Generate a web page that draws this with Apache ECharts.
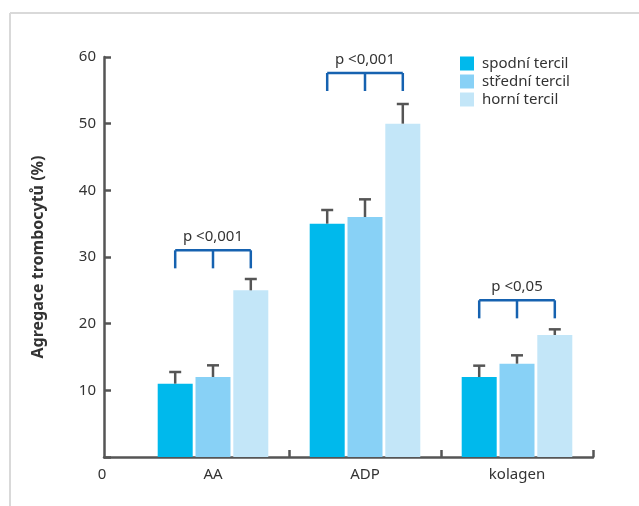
<!DOCTYPE html>
<html>
<head>
<meta charset="utf-8">
<script src="https://cdn.jsdelivr.net/npm/echarts@6/dist/echarts.min.js"></script>
<style>
  html, body { margin: 0; padding: 0; background: #fff; }
  #chart { width: 639px; height: 506px; }
</style>
</head>
<body>
<div id="chart"></div>
<script>
// Agregace trombocytů podle tercilů
const categories = ['AA', 'ADP', 'kolagen'];
const seriesNames = ['spodní tercil', 'střední tercil', 'horní tercil'];
const spodni = [11, 35, 12];
const stredni = [12, 36, 14];
const horni = [25, 50, 18.3];
const spodniErr = [1.75, 2.05, 1.7];
const stredniErr = [1.75, 2.65, 1.25];
const horniErr = [1.7, 2.95, 0.85];
const bracketLevels = [31, 57.6, 23.5];
const pLabels = ['p <0,001', 'p <0,001', 'p <0,05'];
const yMin = 0, yMax = 60, yStep = 10;

const values = [spodni, stredni, horni];
const errors = [spodniErr, stredniErr, horniErr];
const colors = ['#00b9ec', '#88d1f6', '#c3e6f8'];
const FONT = '"Noto Sans", sans-serif';
const FS = 15;
const AXIS = '#555';
const BAR_W = 35;
const GAP_RATIO = 0.08;
const STEP = BAR_W * (1 + GAP_RATIO);
const BRACKET_DROP = 2.7;

const chart = echarts.init(document.getElementById('chart'), null, { renderer: 'canvas' });

const barSeries = seriesNames.map((name, k) => ({
  name,
  type: 'bar',
  xAxisIndex: 1,
  yAxisIndex: 1,
  data: values[k],
  barWidth: BAR_W,
  barGap: (GAP_RATIO * 100) + '%',
  itemStyle: { color: colors[k] },
  z: 2
}));

const errSeries = seriesNames.map((name, k) => ({
  type: 'custom',
  xAxisIndex: 1,
  yAxisIndex: 1,
  silent: true,
  z: 3,
  data: categories.map((c, i) => [i, values[k][i], values[k][i] + errors[k][i]]),
  renderItem: (params, api) => {
    const base = api.coord([api.value(0), api.value(1)]);
    const top = api.coord([api.value(0), api.value(2)]);
    const x = base[0] + (k - 1) * STEP;
    const st = { stroke: AXIS, lineWidth: 2.5 };
    return {
      type: 'group',
      children: [
        { type: 'line', shape: { x1: x, y1: base[1], x2: x, y2: top[1] }, style: st },
        { type: 'line', shape: { x1: x - 6, y1: top[1], x2: x + 6, y2: top[1] }, style: st }
      ]
    };
  }
}));

const bracketSeries = {
  type: 'custom',
  xAxisIndex: 1,
  yAxisIndex: 1,
  silent: true,
  z: 4,
  data: categories.map((c, i) => [i, bracketLevels[i], bracketLevels[i] - BRACKET_DROP]),
  renderItem: (params, api) => {
    const top = api.coord([api.value(0), api.value(1)]);
    const low = api.coord([api.value(0), api.value(2)]);
    const cx = top[0];
    const st = { stroke: '#1662b0', lineWidth: 2.5 };
    const children = [
      { type: 'line', shape: { x1: cx - STEP, y1: top[1], x2: cx + STEP, y2: top[1] }, style: st }
    ];
    [-1, 0, 1].forEach(d => {
      children.push({ type: 'line', shape: { x1: cx + d * STEP, y1: top[1], x2: cx + d * STEP, y2: low[1] }, style: st });
    });
    children.push({
      type: 'text',
      style: {
        text: pLabels[params.dataIndex],
        x: cx, y: top[1] - 6,
        align: 'center', verticalAlign: 'bottom',
        fill: '#333', font: FS + 'px ' + FONT
      }
    });
    return { type: 'group', children };
  }
};

const option = {
  backgroundColor: '#fff',
  animation: false,
  textStyle: { fontFamily: FONT },
  graphic: [
    { type: 'line', shape: { x1: 10, y1: 13, x2: 639, y2: 13 }, style: { stroke: '#d9d9d9', lineWidth: 2 } },
    { type: 'line', shape: { x1: 10, y1: 13, x2: 10, y2: 506 }, style: { stroke: '#d9d9d9', lineWidth: 2 } }
  ],
  legend: {
    left: 455,
    top: 50,
    orient: 'vertical',
    itemWidth: 14,
    itemHeight: 14,
    itemGap: 1,
    icon: 'rect',
    data: seriesNames,
    textStyle: { color: '#333', fontSize: FS, lineHeight: 17, fontFamily: FONT, padding: [0, 0, 0, 3] }
  },
  grid: [
    { left: 104, top: 57, width: 489, height: 400 },
    { left: 137, top: 57, width: 456, height: 400 }
  ],
  xAxis: [
    {
      gridIndex: 0,
      type: 'value',
      min: 0, max: 1, interval: 1,
      axisLine: { show: true, lineStyle: { color: AXIS, width: 2.5 } },
      axisTick: { show: false },
      splitLine: { show: false },
      axisLabel: {
        formatter: v => (v === 0 ? String(yMin) : ''),
        color: '#333', fontSize: FS, margin: 10, fontFamily: FONT, padding: [0, 4, 0, 0]
      }
    },
    {
      gridIndex: 1,
      type: 'category',
      data: categories,
      axisLine: { show: false },
      axisTick: {
        show: true, inside: true, length: 7,
        interval: idx => idx > 0,
        lineStyle: { color: AXIS, width: 2.5 }
      },
      axisLabel: { color: '#333', fontSize: FS, margin: 10, fontFamily: FONT }
    }
  ],
  yAxis: [
    {
      gridIndex: 0,
      type: 'value',
      min: yMin, max: yMax, interval: yStep,
      name: 'Agregace trombocytů (%)',
      nameLocation: 'middle',
      nameGap: 58,
      nameTextStyle: { color: '#333', fontSize: 16, fontWeight: 'bold', fontFamily: FONT },
      axisLine: { show: true, lineStyle: { color: AXIS, width: 2.5 } },
      axisTick: { show: true, inside: true, length: 7, lineStyle: { color: AXIS, width: 2.5 } },
      splitLine: { show: false },
      axisLabel: {
        formatter: v => (v === yMin ? '' : String(v)),
        color: '#333', fontSize: FS, margin: 8, fontFamily: FONT
      }
    },
    {
      gridIndex: 1,
      type: 'value',
      min: yMin, max: yMax, interval: yStep,
      show: false
    }
  ],
  series: [...barSeries, ...errSeries, bracketSeries]
};

chart.setOption(option);
</script>
</body>
</html>
